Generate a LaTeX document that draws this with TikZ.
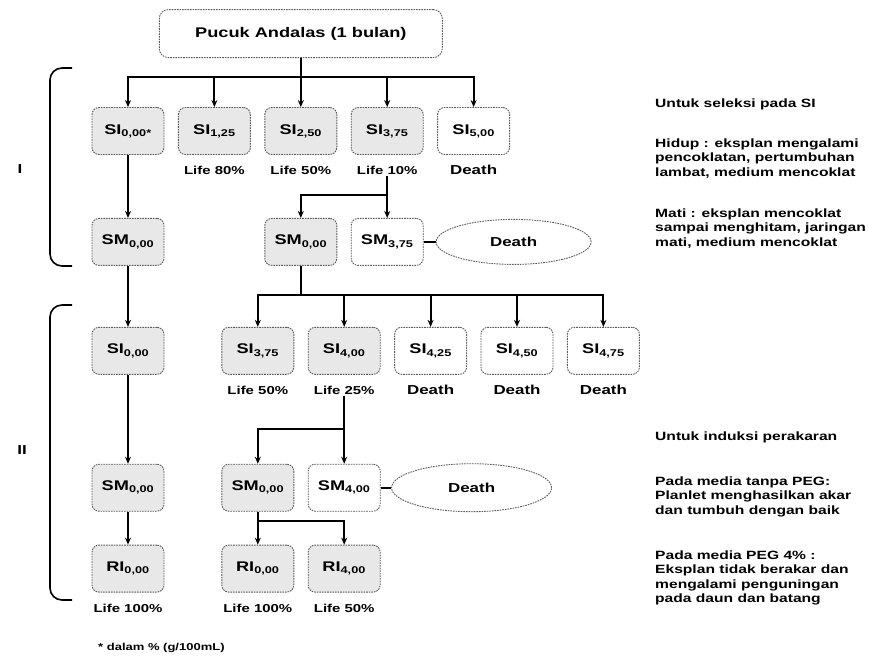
\documentclass[tikz,border=0pt]{standalone}
\usepackage{fontspec}
\setmainfont[FakeStretch=1.3]{Liberation Sans}
\usetikzlibrary{positioning,arrows.meta,shapes.geometric}

\begin{document}
\begin{tikzpicture}[x=1pt, y=1pt,
  node distance=13.5pt and 13.5pt,
  box/.style={draw=black!65, dash pattern=on 1.6pt off 1pt, line width=0.9pt, rounded corners=7pt, fill=white, minimum width=72pt, minimum height=47pt, inner sep=0pt, font=\bfseries\fontsize{14}{16}\selectfont},
  shade/.style={box, fill=black!9},
  death/.style={ellipse, draw=black!65, dash pattern=on 1.6pt off 1pt, line width=0.9pt, fill=white, minimum width=155pt, minimum height=45pt, inner sep=0pt, font=\bfseries\fontsize{13}{15}\selectfont},
  lbl/.style={inner sep=1pt, font=\bfseries\fontsize{11.5}{13}\selectfont},
  dlbl/.style={inner sep=1pt, font=\bfseries\fontsize{13}{15}\selectfont},
  note/.style={inner sep=0pt, align=left, font=\bfseries\fontsize{12}{14.5}\selectfont},
  arr/.style={-{Stealth[length=7pt, width=6pt]}, line width=2pt},
  link/.style={line width=1.6pt},
  brace/.style={line width=1.6pt, rounded corners=12pt}]
  \fill[white] (0,0) rectangle (869,-658);
  \path[use as bounding box] (0,0) rectangle (869,-658);

  % seleksi (I)
  \node[shade] (si000) at (128,-131) {SI\textsubscript{0,00*}};
  \node[shade, right=of si000] (si125) {SI\textsubscript{1,25}};
  \node[shade, right=of si125] (si250) {SI\textsubscript{2,50}};
  \node[shade, right=of si250] (si375) {SI\textsubscript{3,75}};
  \node[box, right=of si375] (si500) {SI\textsubscript{5,00}};
  \node[box, above=49pt of si250, minimum width=283pt, minimum height=48pt, rounded corners=9pt] (pucuk) {Pucuk Andalas (1 bulan)};
  \node[lbl, below=10pt of si125] (l125) {Life 80\%};
  \node[lbl, below=10pt of si250] (l250) {Life 50\%};
  \node[lbl, below=10pt of si375] (l375) {Life 10\%};
  \node[dlbl, below=9pt of si500] (l500) {Death};
  \foreach \n in {si000,si125,si250,si375,si500} \draw[arr] (pucuk.south) -- ++(0,-19) -| (\n.north);

  \node[shade, below=63pt of si000] (sm000) {SM\textsubscript{0,00}};
  \node[shade, below=63pt of si250] (smb000) {SM\textsubscript{0,00}};
  \node[box, right=of smb000] (sm375) {SM\textsubscript{3,75}};
  \node[death, right=12pt of sm375] (mati1) {Death};
  \draw[arr] (si000) -- (sm000);
  \foreach \n in {smb000,sm375} \draw[arr] (l375.south) -- ++(0,-19) -| (\n.north);
  \draw[link] (sm375) -- (mati1);

  % induksi (II)
  \node[shade, below=61pt of sm000] (si000b) {SI\textsubscript{0,00}};
  \node[shade, below=61pt of smb000, xshift=-43pt] (sic375) {SI\textsubscript{3,75}};
  \node[shade, right=of sic375] (sic400) {SI\textsubscript{4,00}};
  \node[box, right=of sic400] (sic425) {SI\textsubscript{4,25}};
  \node[box, right=of sic425] (sic450) {SI\textsubscript{4,50}};
  \node[box, right=of sic450] (sic475) {SI\textsubscript{4,75}};
  \node[lbl, below=10pt of sic375] (lc375) {Life 50\%};
  \node[lbl, below=10pt of sic400] (lc400) {Life 25\%};
  \node[dlbl, below=9pt of sic425] (lc425) {Death};
  \node[dlbl, below=9pt of sic450] (lc450) {Death};
  \node[dlbl, below=9pt of sic475] (lc475) {Death};
  \draw[arr] (sm000) -- (si000b);
  \foreach \n in {sic375,sic400,sic425,sic450,sic475} \draw[arr] (smb000.south) -- ++(0,-29.5) -| (\n.north);

  \node[shade, below=89pt of si000b] (sm000c) {SM\textsubscript{0,00}};
  \node[box, below=89pt of sic400] (sm400) {SM\textsubscript{4,00}};
  \node[shade, left=of sm400] (smd000) {SM\textsubscript{0,00}};
  \node[death, right=10.5pt of sm400, minimum width=160pt, minimum height=48pt] (mati2) {Death};
  \draw[arr] (si000b) -- (sm000c);
  \foreach \n in {smd000,sm400} \draw[arr] (lc400.south) -- ++(0,-33) -| (\n.north);
  \draw[link] (sm400) -- (mati2);

  \node[shade, below=33pt of sm000c] (ri000) {RI\textsubscript{0,00}};
  \node[shade, below=33pt of smd000] (rib000) {RI\textsubscript{0,00}};
  \node[shade, below=33pt of sm400] (ri400) {RI\textsubscript{4,00}};
  \node[lbl, below=10pt of ri000] (lr000) {Life 100\%};
  \node[lbl, below=10pt of rib000] (lrb000) {Life 100\%};
  \node[lbl, below=10pt of ri400] (lr400) {Life 50\%};
  \draw[arr] (sm000c) -- (ri000);
  \foreach \n in {rib000,ri400} \draw[arr] (smd000.south) -- ++(0,-9) -| (\n.north);

  % tahap I / II
  \draw[brace] (72,-68) -- (50,-68) -- (50,-266) -- (72,-266);
  \draw[brace] (72,-305) -- (50,-305) -- (50,-600) -- (72,-600);
  \node[dlbl] (tahapI) at (20,-169) {I};
  \node[dlbl] (tahapII) at (22,-450) {II};

  % keterangan
  \node[note, anchor=north west] (seleksi) at (655,-99) {Untuk seleksi pada SI};
  \node[note, below=28pt of seleksi.south west, anchor=north west] (hidup) {Hidup : eksplan mengalami\\pencoklatan, pertumbuhan\\lambat, medium mencoklat};
  \node[note, below=30pt of hidup.south west, anchor=north west] (mati) {Mati : eksplan mencoklat\\sampai menghitam, jaringan\\mati, medium mencoklat};
  \node[note, anchor=north west] (induksi) at (655,-432) {Untuk induksi perakaran};
  \node[note, below=33pt of induksi.south west, anchor=north west] (tanpa) {Pada media tanpa PEG:\\Planlet menghasilkan akar\\dan tumbuh dengan baik};
  \node[note, below=33pt of tanpa.south west, anchor=north west] (peg) {Pada media PEG 4\% :\\Eksplan tidak berakar dan\\mengalami penguningan\\pada daun dan batang};
  \node[lbl, anchor=west, font=\bfseries\fontsize{10}{12}\selectfont] (catatan) at (97,-648) {* dalam \% (g/100mL)};
\end{tikzpicture}
\end{document}
